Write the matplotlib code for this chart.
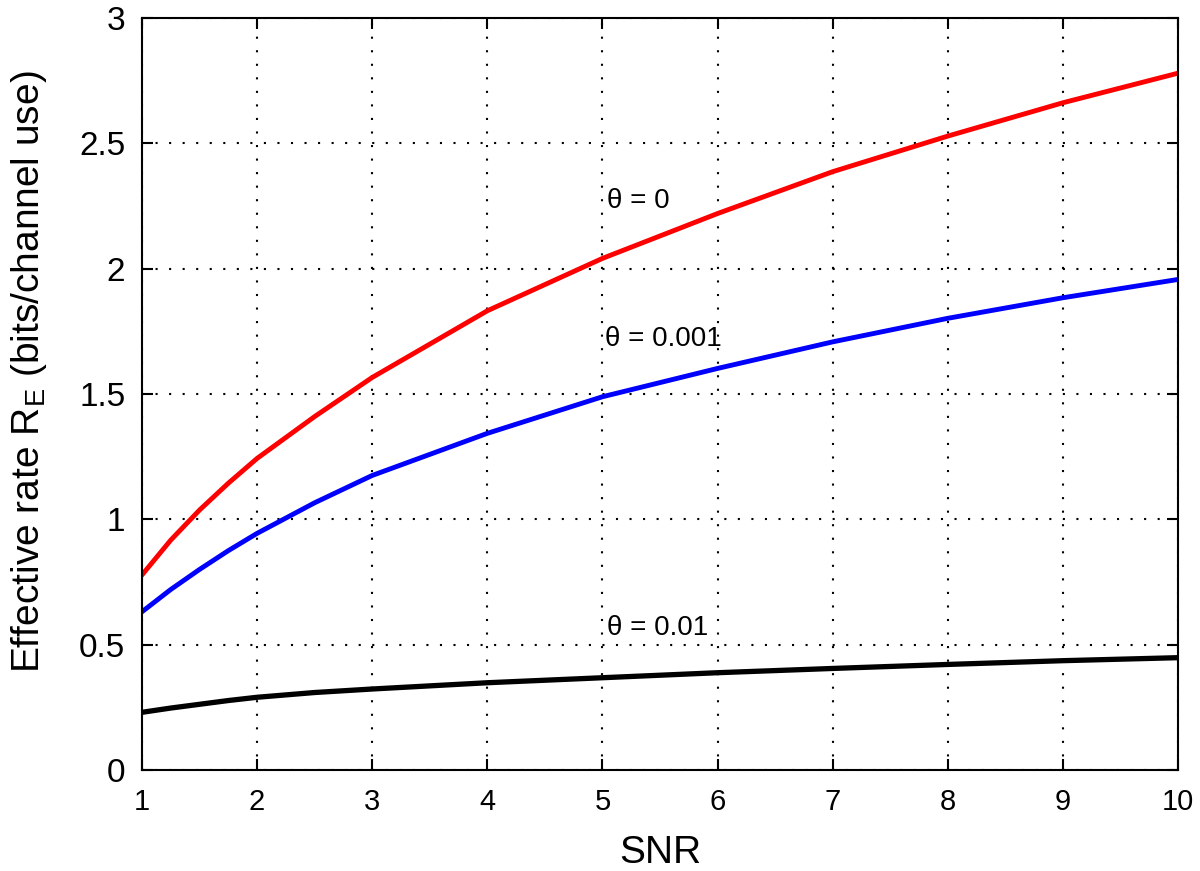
import matplotlib
matplotlib.use("Agg")
import matplotlib.pyplot as plt
import numpy as np

plt.rcParams['font.family'] = ['Liberation Sans', 'DejaVu Sans']

# values
snr = [1, 1.25, 1.5, 1.75, 2, 2.5, 3, 4, 5, 6, 7, 8, 9, 10]
rate_theta_0 = [0.778, 0.917, 1.037, 1.144, 1.243, 1.41, 1.566, 1.832, 2.041, 2.22, 2.387, 2.529, 2.662, 2.78]
rate_theta_0001 = [0.631, 0.72, 0.8, 0.875, 0.944, 1.066, 1.175, 1.343, 1.489, 1.602, 1.708, 1.802, 1.884, 1.957]
rate_theta_001 = [0.23, 0.247, 0.262, 0.277, 0.29, 0.309, 0.323, 0.348, 0.368, 0.388, 0.405, 0.421, 0.436, 0.448]

fig = plt.figure(figsize=(12, 8.71), dpi=100)
ax = fig.add_axes([0.1183, 0.116, 0.8634, 0.8633])

ax.plot(snr, rate_theta_0, color='#ff0000', lw=3.5)
ax.plot(snr, rate_theta_0001, color='#0000ff', lw=3.5)
ax.plot(snr, rate_theta_001, color='black', lw=3.8)

ax.text(5.04, 2.27, 'θ = 0', fontsize=20, va='center', ha='left')
ax.text(5.02, 1.72, 'θ = 0.001', fontsize=20, va='center', ha='left')
ax.text(5.04, 0.566, 'θ = 0.01', fontsize=20, va='center', ha='left')

ax.set_xlim(1, 10)
ax.set_ylim(0, 3)
ax.set_xticks(np.arange(1, 11))
ax.set_yticks([0, 0.5, 1, 1.5, 2, 2.5, 3])
ax.set_yticklabels(['0', '0.5', '1', '1.5', '2', '2.5', '3'])
ax.tick_params(direction='in', length=8, width=1.5, top=True, right=True)
ax.tick_params(axis='x', labelsize=21, pad=13)
ax.tick_params(axis='y', labelsize=24, pad=12)
ax.grid(True, linestyle=(0, (1, 5.5)), color='black', linewidth=1.5)
for s in ax.spines.values():
    s.set_linewidth(1.5)

ax.set_xlabel('SNR', fontsize=28, labelpad=14)
ax.set_ylabel(r'Effective rate R$_\mathregular{E}$ (bits/channel use)', fontsize=28)
ax.yaxis.set_label_coords(-0.09, 0.53)

plt.savefig('out.png', dpi=100)
